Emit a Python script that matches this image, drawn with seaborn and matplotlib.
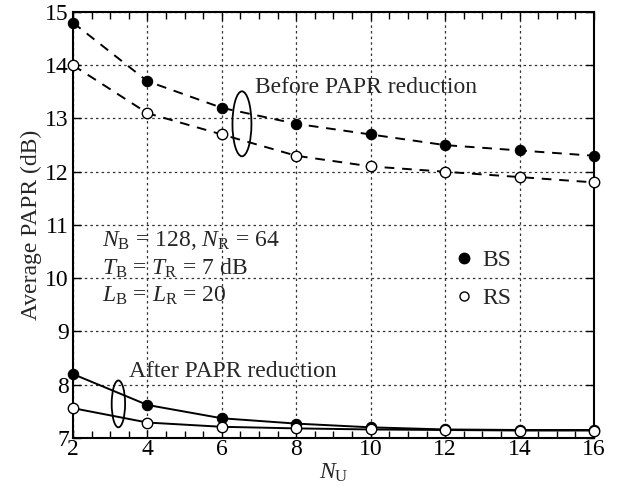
import matplotlib
matplotlib.use("Agg")
import matplotlib.pyplot as plt
import seaborn as sns
import numpy as np
from matplotlib.patches import Ellipse
from matplotlib.lines import Line2D
from matplotlib.ticker import MultipleLocator

nu = [2, 4, 6, 8, 10, 12, 14, 16]
bs_before = [14.8, 13.7, 13.2, 12.9, 12.7, 12.5, 12.4, 12.3]
rs_before = [14.0, 13.1, 12.7, 12.3, 12.1, 12.0, 11.9, 11.8]
bs_after = [8.2, 7.62, 7.37, 7.27, 7.2, 7.16, 7.15, 7.15]
rs_after = [7.56, 7.29, 7.21, 7.18, 7.16, 7.15, 7.14, 7.14]
legend_labels = ["BS", "RS"]

sns.set_style("ticks")
plt.rcParams['font.family'] = ['Liberation Serif', 'DejaVu Serif']
plt.rcParams['mathtext.fontset'] = 'custom'
plt.rcParams['mathtext.rm'] = 'Liberation Serif'
plt.rcParams['mathtext.it'] = 'Liberation Serif:italic'
plt.rcParams['mathtext.bf'] = 'Liberation Serif:bold'

fs = 17
fig = plt.figure(figsize=(6.17, 4.88), dpi=100)
ax = fig.add_axes([0.1183, 0.1025, 0.8444, 0.8729])

ms = 7.5
lw = 1.4
sns.lineplot(x=nu, y=bs_before, ax=ax, color='k', linestyle=(0, (5, 4)), lw=lw,
             marker='o', markersize=ms, markerfacecolor='k', markeredgecolor='k', clip_on=False, zorder=3)
sns.lineplot(x=nu, y=rs_before, ax=ax, color='k', linestyle=(0, (5, 4)), lw=lw,
             marker='o', markersize=ms, markerfacecolor='white', markeredgecolor='k', markeredgewidth=1.0, clip_on=False, zorder=3)
sns.lineplot(x=nu, y=bs_after, ax=ax, color='k', linestyle='-', lw=lw,
             marker='o', markersize=ms, markerfacecolor='k', markeredgecolor='k', clip_on=False, zorder=3)
sns.lineplot(x=nu, y=rs_after, ax=ax, color='k', linestyle='-', lw=lw,
             marker='o', markersize=ms, markerfacecolor='white', markeredgecolor='k', markeredgewidth=1.0, clip_on=False, zorder=3)

ax.set_xlim(2, 16)
ax.set_ylim(7, 15)
ax.set_xticks(nu)
ax.set_yticks(range(7, 16))
ax.xaxis.set_minor_locator(MultipleLocator(0.5))
ax.tick_params(axis='both', which='both', direction='in', top=True, right=True,
               labelsize=fs, colors='k')
ax.tick_params(axis='x', which='major', pad=1)
ax.tick_params(axis='y', which='major', pad=3)
ax.tick_params(axis='both', which='major', length=6, width=1.0)
ax.tick_params(axis='x', which='minor', length=5, width=1.0)
for s in ax.spines.values():
    s.set_linewidth(1.5)
    s.set_color('k')
ax.grid(True, which='major', color='#333333', linestyle=(0, (2, 2.5)), lw=0.9)

ax.set_ylabel("Average PAPR (dB)", fontsize=fs, labelpad=2)
ax.set_xlabel(r"$N_{\mathrm{U}}$", fontsize=fs, labelpad=1)

ax.add_patch(Ellipse((6.54, 12.9), 0.51, 1.22, fill=False, ec='k', lw=1.3, zorder=4))
ax.add_patch(Ellipse((3.22, 7.64), 0.36, 0.88, fill=False, ec='k', lw=1.3, zorder=4))
ax.text(6.88, 13.58, "Before PAPR reduction", fontsize=fs, va='center', ha='left')
ax.text(3.5, 8.25, "After PAPR reduction", fontsize=fs, va='center', ha='left')

ax.text(2.78, 10.70, r"$N_{\mathrm{B}}$ = 128, $N_{\mathrm{R}}$ = 64", fontsize=fs, va='center', ha='left')
ax.text(2.78, 10.18, r"$T_{\mathrm{B}}$ = $T_{\mathrm{R}}$ = 7 dB", fontsize=fs, va='center', ha='left')
ax.text(2.78, 9.66, r"$L_{\mathrm{B}}$ = $L_{\mathrm{R}}$ = 20", fontsize=fs, va='center', ha='left')

handles = [Line2D([], [], ls='none', marker='o', markersize=ms, markerfacecolor='k', markeredgecolor='k'),
           Line2D([], [], ls='none', marker='o', markersize=ms - 1, markerfacecolor='white', markeredgecolor='k')]
ax.legend(handles, legend_labels, loc='center left', bbox_to_anchor=(0.714, 0.372),
          frameon=False, fontsize=fs, handlelength=0.6, handletextpad=0.5, labelspacing=0.68,
          borderpad=0)

fig.savefig("out.png", dpi=100)
